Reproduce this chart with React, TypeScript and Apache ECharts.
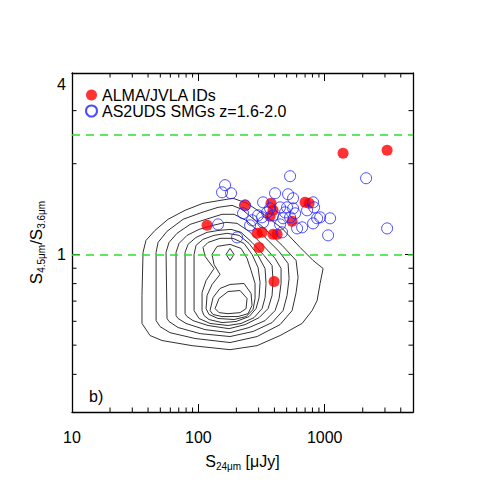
import React, { useEffect, useRef } from 'react';
import * as echarts from 'echarts';

const X_MIN = 10;
const X_MAX = 5000;
const Y_MIN = 0.3;
const Y_MAX = 4;
const xTickLabels = [10, 100, 1000];
const yTickLabels = [1, 4];
const xMinorTicks = [20, 30, 40, 50, 60, 70, 80, 90, 200, 300, 400, 500, 600, 700, 800, 900, 2000, 3000, 4000];
const yMinorTicks = [0.4, 0.5, 0.6, 0.7, 0.8, 0.9, 2, 3];
const refLines = [1, 2.5];

const almaIDs: [number, number][] = [
  [117.2, 1.249], [234.3, 1.455], [376.3, 1.478], [390.3, 1.401], [369.5, 1.338],
  [552.0, 1.288], [699.7, 1.489], [752.7, 1.478], [291.6, 1.175], [319.4, 1.184],
  [390.3, 1.166], [419.9, 1.166], [302.4, 1.055], [397.5, 0.813], [1398, 2.168], [3120, 2.218],
];

const as2udsSMGs: [number, number][] = [
  [162.7, 1.698], [154.0, 1.608], [181.5, 1.596], [532.2, 1.818], [2127, 1.790],
  [3120, 1.220], [1064, 1.157], [143.2, 1.258], [202.5, 1.139], [234.3, 1.455],
  [225.9, 1.369], [325.3, 1.489], [296.9, 1.348], [349.9, 1.379], [266.1, 1.298],
  [256.6, 1.249], [325.3, 1.278], [404.8, 1.596], [513.1, 1.584], [562.1, 1.536],
  [809.5, 1.489], [725.7, 1.401], [824.4, 1.433], [503.8, 1.433], [562.1, 1.422],
  [443.4, 1.433], [369.5, 1.422], [485.8, 1.379], [583.0, 1.369], [390.3, 1.348],
  [468.3, 1.318], [532.2, 1.328], [919.9, 1.328], [870.9, 1.318], [1104, 1.318],
  [809.5, 1.268], [662.4, 1.230], [604.6, 1.220], [459.9, 1.184], [443.4, 1.258],
  [319.4, 1.328],
];

const contour1: [number, number][] = [
  [35.8, 0.590], [35.8, 0.731], [36.5, 1.016], [38.5, 1.113], [45.4, 1.202], [57.6, 1.308],
  [78.5, 1.401], [108.9, 1.478], [188.2, 1.536], [243.0, 1.478], [337.3, 1.348], [459.9, 1.220],
  [638.7, 1.055], [809.5, 0.955], [971.6, 0.898], [919.9, 0.801], [870.9, 0.703], [794.9, 0.651],
  [662.4, 0.590], [443.4, 0.538], [291.6, 0.498], [178.2, 0.483], [89.2, 0.498], [51.6, 0.518],
  [41.5, 0.538], [35.8, 0.590],
];
const contour2: [number, number][] = [
  [46.3, 0.603], [46.3, 1.016], [48.0, 1.096], [56.5, 1.193], [75.7, 1.308], [107.0, 1.379],
  [143.2, 1.433], [184.8, 1.455], [221.8, 1.411], [319.4, 1.239], [459.9, 1.072], [593.7, 0.955],
  [615.8, 0.839], [593.7, 0.747], [552.0, 0.651], [443.4, 0.585], [291.6, 0.534], [178.2, 0.510],
  [94.2, 0.526], [59.7, 0.550], [49.8, 0.576], [46.3, 0.603],
];
const contour3: [number, number][] = [
  [56.5, 0.613], [55.5, 1.016], [58.6, 1.096], [67.8, 1.175], [86.0, 1.258], [115.1, 1.308],
  [154.0, 1.359], [191.7, 1.359], [238.6, 1.298], [325.3, 1.157], [435.5, 1.023], [513.1, 0.933],
  [522.6, 0.832], [503.8, 0.731], [468.3, 0.651], [383.2, 0.594], [271.0, 0.555], [178.2, 0.534],
  [103.2, 0.546], [69.1, 0.572], [58.6, 0.599], [56.5, 0.613],
];
const contour4: [number, number][] = [
  [66.6, 0.627], [66.6, 1.016], [70.4, 1.088], [81.4, 1.157], [101.3, 1.211], [130.7, 1.249],
  [165.7, 1.278], [202.5, 1.268], [252.0, 1.193], [325.3, 1.072], [404.8, 0.970], [451.6, 0.898],
  [451.6, 0.801], [435.5, 0.714], [404.8, 0.651], [337.3, 0.603], [252.0, 0.572], [178.2, 0.550],
  [113.0, 0.563], [79.9, 0.590], [69.1, 0.613], [66.6, 0.627],
];
const contour5: [number, number][] = [
  [78.5, 0.636], [78.5, 1.016], [82.9, 1.080], [95.9, 1.139], [117.2, 1.184], [145.8, 1.202],
  [181.5, 1.211], [217.8, 1.184], [266.1, 1.096], [331.2, 0.992], [383.2, 0.919], [390.3, 0.819],
  [383.2, 0.731], [356.3, 0.661], [302.4, 0.617], [234.3, 0.585], [175.0, 0.567], [119.3, 0.581],
  [90.8, 0.603], [81.4, 0.622], [78.5, 0.636],
];
const contour6: [number, number][] = [
  [92.5, 0.651], [92.5, 1.000], [95.9, 1.072], [108.9, 1.122], [133.1, 1.157], [168.7, 1.175],
  [210.0, 1.157], [252.0, 1.088], [296.9, 0.992], [337.3, 0.898], [343.5, 0.801], [337.3, 0.719],
  [319.4, 0.661], [276.0, 0.617], [217.8, 0.590], [171.8, 0.581], [123.8, 0.590], [101.3, 0.613],
  [92.5, 0.651],
];
const contour7: [number, number][] = [
  [107.0, 0.651], [107.0, 0.747], [115.1, 0.819], [133.1, 0.898], [113.0, 0.985], [108.9, 1.055],
  [119.3, 1.096], [148.5, 1.131], [188.2, 1.131], [230.0, 1.088], [266.1, 1.000], [296.9, 0.905],
  [307.9, 0.807], [302.4, 0.719], [286.3, 0.661], [252.0, 0.622], [198.8, 0.599], [154.0, 0.594],
  [121.5, 0.608], [110.9, 0.627], [107.0, 0.651],
];
const contour8: [number, number][] = [
  [115.1, 0.661], [117.2, 0.731], [128.4, 0.795], [148.5, 0.858], [133.1, 0.926], [128.4, 1.000],
  [140.6, 1.063], [178.2, 1.080], [217.8, 1.047], [243.0, 0.970], [261.3, 0.885], [281.1, 0.801],
  [281.1, 0.714], [271.0, 0.656], [238.6, 0.622], [191.7, 0.608], [143.2, 0.613], [121.5, 0.632],
  [115.1, 0.661],
];
const contour9: [number, number][] = [
  [123.8, 0.651], [130.7, 0.719], [148.5, 0.771], [178.2, 0.795], [230.0, 0.801], [261.3, 0.742],
  [266.1, 0.677], [247.4, 0.636], [206.2, 0.622], [154.0, 0.622], [130.7, 0.632], [123.8, 0.651],
];
const contour10: [number, number][] = [
  [135.6, 0.661], [145.8, 0.714], [171.8, 0.753], [213.9, 0.759], [243.0, 0.714], [238.6, 0.661],
  [213.9, 0.641], [171.8, 0.636], [145.8, 0.641], [135.6, 0.661],
];
const contourPeak: [number, number][] = [
  [165.7, 1.000], [178.2, 1.047], [191.7, 1.000], [178.2, 0.955], [165.7, 1.000],
];

const contours = [contour1, contour2, contour3, contour4, contour5, contour6, contour7, contour8, contour9, contour10, contourPeak];

const FONT = '"Liberation Sans", Arial, Helvetica, sans-serif';

export default function App() {
  const ref = useRef<HTMLDivElement>(null);
  useEffect(() => {
    if (!ref.current) return;
    const chart = echarts.init(ref.current, null, { renderer: 'svg' });
    const near = (a: number, b: number) => Math.abs(a - b) / b < 1e-4;
    const axisLine = { show: true, lineStyle: { color: '#000', width: 1.3 } };
    const majorTick = { show: true, inside: true, length: 8, lineStyle: { color: '#000', width: 1 } };

    const contourSeries = contours.map((c, i) => ({
      type: 'line',
      name: 'contour' + i,
      data: c,
      showSymbol: false,
      symbol: 'none',
      silent: true,
      lineStyle: { color: '#333', width: 1 },
      xAxisIndex: 0,
      yAxisIndex: 0,
      z: 1,
    }));

    const option: any = {
      animation: false,
      backgroundColor: '#fff',
      title: {
        text: 'b)',
        left: 84,
        top: 383,
        textStyle: { fontSize: 16, fontWeight: 'normal', fontFamily: FONT, color: '#000' },
      },
      legend: {
        data: ['ALMA/JVLA IDs', 'AS2UDS SMGs z=1.6-2.0'],
        orient: 'vertical',
        left: 80,
        top: 82,
        itemWidth: 11,
        itemHeight: 11,
        itemGap: 0,
        icon: 'circle',
        textStyle: { fontSize: 16, fontFamily: FONT, color: '#000' },
      },
      grid: { left: 72, right: 72, top: 73, bottom: 73 },
      xAxis: [
        {
          type: 'log',
          logBase: 10,
          min: X_MIN,
          max: X_MAX,
          position: 'bottom',
          axisLine,
          axisTick: majorTick,
          splitLine: { show: false },
          axisLabel: {
            margin: 17,
            fontSize: 16,
            fontFamily: FONT,
            color: '#000',
            showMaxLabel: false,
            formatter: (v: number) => (xTickLabels.some((t) => near(v, t)) ? String(Math.round(v)) : ''),
          },
          name: 'S{s|24μm} [μJy]',
          nameLocation: 'middle',
          nameGap: 39,
          nameTextStyle: {
            fontSize: 16,
            fontFamily: FONT,
            color: '#000',
            lineHeight: 20,
            rich: { s: { fontSize: 10, fontFamily: FONT, color: '#000', lineHeight: 10, verticalAlign: 'bottom' } },
          },
        },
        {
          type: 'log',
          logBase: 10,
          min: X_MIN,
          max: X_MAX,
          position: 'top',
          axisLine,
          axisTick: majorTick,
          axisLabel: { show: false },
          splitLine: { show: false },
        },
      ],
      yAxis: [
        {
          type: 'log',
          logBase: 10,
          min: Y_MIN,
          max: Y_MAX,
          position: 'left',
          axisLine,
          axisTick: majorTick,
          splitLine: { show: false },
          axisLabel: {
            margin: 6,
            fontSize: 16,
            fontFamily: FONT,
            color: '#000',
            formatter: (v: number) => {
              if (near(v, yTickLabels[1])) return '{t|' + yTickLabels[1] + '}';
              if (near(v, yTickLabels[0])) return String(yTickLabels[0]);
              return '';
            },
            rich: { t: { fontSize: 16, fontFamily: FONT, color: '#000', padding: [22, 0, 0, 0] } },
          },
          name: '{b|S}{s|4.5μm}{b|/S}{s|3.6μm}',
          nameLocation: 'middle',
          nameGap: 22,
          nameTextStyle: {
            fontSize: 16,
            fontFamily: FONT,
            color: '#000',
            rich: {
              b: { fontSize: 17, fontFamily: FONT, color: '#000', lineHeight: 20 },
              s: { fontSize: 10, fontFamily: FONT, color: '#000', lineHeight: 10, verticalAlign: 'bottom' },
            },
          },
        },
        {
          type: 'log',
          logBase: 10,
          min: Y_MIN,
          max: Y_MAX,
          position: 'right',
          axisLine,
          axisTick: majorTick,
          axisLabel: { show: false },
          splitLine: { show: false },
        },
      ],
      series: [
        ...contourSeries,
        {
          type: 'custom',
          name: 'xminor',
          silent: true,
          xAxisIndex: 0,
          yAxisIndex: 0,
          data: xMinorTicks.map((v) => [v, Y_MIN]),
          renderItem: (_p: any, api: any) => {
            const v = api.value(0);
            const b = api.coord([v, Y_MIN]);
            const t = api.coord([v, Y_MAX]);
            return {
              type: 'group',
              children: [
                { type: 'line', shape: { x1: b[0], y1: b[1], x2: b[0], y2: b[1] - 4.5 }, style: { stroke: '#000', lineWidth: 1 } },
                { type: 'line', shape: { x1: t[0], y1: t[1], x2: t[0], y2: t[1] + 4.5 }, style: { stroke: '#000', lineWidth: 1 } },
              ],
            };
          },
        },
        {
          type: 'custom',
          name: 'yminor',
          silent: true,
          xAxisIndex: 0,
          yAxisIndex: 0,
          data: yMinorTicks.map((v) => [X_MIN, v]),
          renderItem: (_p: any, api: any) => {
            const v = api.value(1);
            const l = api.coord([X_MIN, v]);
            const r = api.coord([X_MAX, v]);
            return {
              type: 'group',
              children: [
                { type: 'line', shape: { x1: l[0], y1: l[1], x2: l[0] + 4.5, y2: l[1] }, style: { stroke: '#000', lineWidth: 1 } },
                { type: 'line', shape: { x1: r[0], y1: r[1], x2: r[0] - 4.5, y2: r[1] }, style: { stroke: '#000', lineWidth: 1 } },
              ],
            };
          },
        },
        {
          type: 'scatter',
          name: 'ALMA/JVLA IDs',
          data: almaIDs,
          symbol: 'circle',
          symbolSize: 11,
          itemStyle: { color: '#ff0000' },
          z: 3,
          markLine: {
            silent: true,
            symbol: 'none',
            label: { show: false },
            lineStyle: { color: '#2ee02e', width: 1.5, type: [8, 6] },
            data: refLines.map((v) => ({ yAxis: v })),
          },
        },
        {
          type: 'scatter',
          name: 'AS2UDS SMGs z=1.6-2.0',
          data: as2udsSMGs,
          symbol: 'circle',
          symbolSize: 11,
          itemStyle: { color: 'rgba(255,255,255,0)', borderColor: '#1f1fff', borderWidth: 1 },
          z: 4,
        },
      ],
    };
    chart.setOption(option);
    return () => chart.dispose();
  }, []);
  return <div ref={ref} style={{ position: 'absolute', left: 0, top: 0, width: 485, height: 485 }} />;
}
